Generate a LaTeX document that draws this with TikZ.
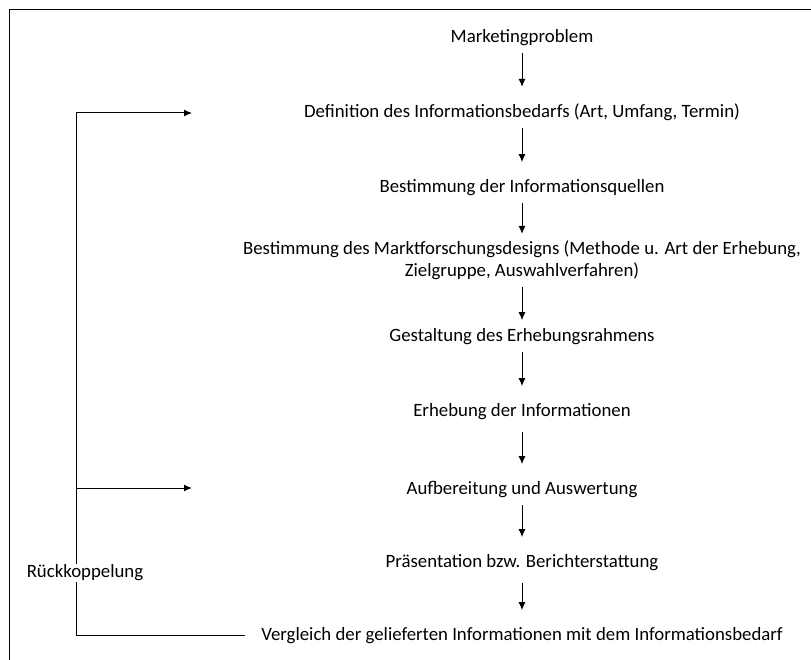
\documentclass[tikz,border=0pt]{standalone}
\usepackage{fontspec}
\setmainfont{Carlito}
\usetikzlibrary{arrows.meta}

\begin{document}
\begin{tikzpicture}[x=1pt,y=-1pt]
  \tikzstyle{stage}=[font=\fontsize{18.8}{22}\selectfont,align=center,inner sep=2pt]
  \tikzstyle{flow}=[-{Latex[length=8pt,width=7pt]},line width=1pt,shorten <=5pt,shorten >=15pt]
  \tikzstyle{loop}=[line width=1pt]

    \useasboundingbox (0,0) rectangle (811,660);
    \draw [line width=1pt] (9.5,660) -- (9.5,10) -- (811,10);

    \node[stage] (mkt) at (522, 37.5) {Marketingproblem};
    \node[stage] (def) at (522, 112.5) {Definition des Informationsbedarfs (Art, Umfang, Termin)};
    \node[stage] (quell) at (522, 187.5) {Bestimmung der Informationsquellen};
    \node[stage] (design) at (522, 260.5) {Bestimmung des Marktforschungsdesigns (Methode u. Art der Erhebung,\\ Zielgruppe, Auswahlverfahren)};
    \node[stage] (rahmen) at (522, 336.5) {Gestaltung des Erhebungsrahmens};
    \node[stage] (erheb) at (522, 411.5) {Erhebung der Informationen};
    \node[stage] (aufb) at (522, 489.5) {Aufbereitung und Auswertung};
    \node[stage] (praes) at (522, 562.5) {Präsentation bzw. Berichterstattung};
    \node[stage,outer xsep=14pt] (verg) at (522, 635.5) {Vergleich der gelieferten Informationen mit dem Informationsbedarf};

    \draw[flow] (mkt) -- (def);
    \draw[flow] (def) -- (quell);
    \draw[flow,shorten >=5pt] (quell) -- (design);
    \draw[flow,shorten >=6pt] (design) -- (rahmen);
    \draw[flow] (rahmen) -- (erheb);
    \draw[flow,shorten <=10pt] (erheb) -- (aufb);
    \draw[flow] (aufb) -- (praes);
    \draw[flow,shorten <=10pt] (praes) -- (verg);

    % feedback
    \coordinate (fbx) at (76, 0);
    \coordinate (tipdef) at (192, 113);
    \coordinate (tipaufb) at (192, 488);
    \draw[loop] (verg.west) -| (fbx |- tipdef);
    \draw[flow,shorten <=0pt,shorten >=0pt] (fbx |- tipdef) -- (tipdef);
    \draw[flow,shorten <=0pt,shorten >=0pt] (fbx |- tipaufb) -- (tipaufb);
    \node[stage,fill=white,inner sep=1pt] (rueck) at (85, 573) {Rückkoppelung};

\end{tikzpicture}
\end{document}
